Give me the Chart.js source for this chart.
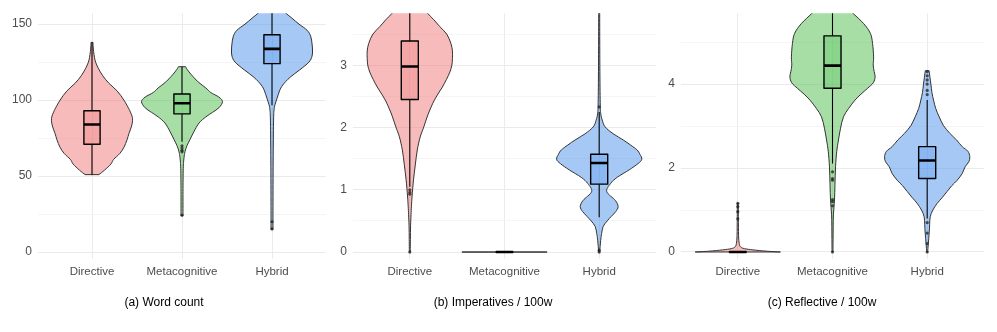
<!DOCTYPE html>
<html>
<head>
<meta charset="utf-8">
<script src="https://cdn.jsdelivr.net/npm/chart.js@4.4.0/dist/chart.umd.min.js"></script>
<style>
  body { margin: 0; background: #fff; }
  #wrap { position: relative; width: 997px; height: 332px; }
  #wrap canvas { position: absolute; top: 0; }
</style>
</head>
<body>
<div id="wrap">
  <canvas id="c1" width="330" height="332" style="left:0px"></canvas>
  <canvas id="c2" width="330" height="332" style="left:330px"></canvas>
  <canvas id="c3" width="337" height="332" style="left:660px"></canvas>
</div>
<script>
const groups = ['Directive', 'Metacognitive', 'Hybrid'];
const titles = ['(a) Word count', '(b) Imperatives / 100w', '(c) Reflective / 100w'];

// violin outlines: [value, half width in category units] from bottom to top
const wordViolins = [
  [[51,0.077],[54,0.14],[58,0.21],[61,0.24],[65,0.31],[69,0.355],[74,0.39],[78,0.41],[83,0.44],[88,0.45],
   [93,0.42],[100,0.355],[106,0.28],[111,0.19],[116,0.12],[121,0.07],[125,0.04],[128,0.028],[132,0.018],[135,0.013],[138,0.011]],
  [[24,0.011],[40,0.011],[55,0.014],[62,0.022],[66,0.033],[70,0.055],[74,0.088],[79,0.13],[85,0.19],[89,0.265],
   [92,0.34],[95,0.41],[99,0.45],[102,0.41],[105,0.32],[108,0.265],[111,0.2],[114,0.145],[117,0.1],[120,0.06],[122,0.04]],
  [[15,0.011],[30,0.011],[60,0.013],[85,0.017],[93,0.022],[97,0.033],[101,0.055],[106,0.083],[110,0.12],[115,0.2],
   [120,0.31],[125,0.41],[129,0.445],[133,0.45],[137,0.445],[142,0.43],[146,0.39],[150,0.3],[154,0.22],[158,0.14],
   [163,0.08],[168,0.035],[172,0.011]]
];
const impViolins = [
  [[0,0.005],[0.2,0.006],[0.42,0.008],[0.6,0.013],[0.73,0.017],[0.9,0.024],[1.16,0.039],[1.4,0.058],[1.64,0.079],
   [1.85,0.11],[2.01,0.148],[2.2,0.19],[2.39,0.243],[2.52,0.29],[2.65,0.344],[2.77,0.386],[2.89,0.423],[3.0,0.444],
   [3.11,0.45],[3.23,0.45],[3.35,0.434],[3.5,0.39],[3.62,0.317],[3.73,0.254],[3.83,0.19],[3.95,0.127],[4.1,0.063],[4.3,0.02]],
  [[0,0.45],[0,0.45]],
  [[0,0.005],[0.19,0.016],[0.3,0.026],[0.41,0.042],[0.5,0.085],[0.57,0.127],[0.65,0.175],[0.73,0.2],[0.83,0.17],
   [0.97,0.08],[1.1,0.12],[1.2,0.19],[1.32,0.317],[1.42,0.41],[1.49,0.45],[1.57,0.43],[1.64,0.4],[1.72,0.33],
   [1.8,0.254],[1.9,0.148],[2.01,0.063],[2.12,0.032],[2.23,0.016],[2.4,0.011],[3.0,0.007],[4.0,0.005]]
];
const reflViolins = [
  [[0,0.45],[0.02,0.3],[0.05,0.16],[0.08,0.07],[0.12,0.03],[0.2,0.015],[0.4,0.008],[0.8,0.006],[1.16,0.005]],
  [[0,0.005],[0.3,0.006],[0.6,0.007],[0.9,0.01],[1.24,0.021],[1.6,0.026],[2.03,0.032],[2.4,0.045],[2.67,0.063],
   [2.95,0.085],[3.22,0.116],[3.42,0.17],[3.62,0.238],[3.76,0.3],[3.9,0.37],[4.03,0.43],[4.17,0.45],[4.3,0.44],
   [4.45,0.43],[4.65,0.434],[4.97,0.423],[5.21,0.4],[5.44,0.33],[5.68,0.22],[5.9,0.12],[6.1,0.05],[6.3,0.01]],
  [[0,0.005],[0.2,0.012],[0.45,0.021],[0.65,0.026],[0.84,0.032],[1.0,0.06],[1.16,0.106],[1.3,0.16],[1.44,0.21],
   [1.58,0.26],[1.71,0.317],[1.87,0.37],[2.03,0.4],[2.15,0.44],[2.27,0.45],[2.4,0.43],[2.51,0.37],[2.67,0.31],
   [2.83,0.238],[3.02,0.17],[3.22,0.127],[3.42,0.09],[3.62,0.067],[3.8,0.05],[4.0,0.039],[4.15,0.03],[4.32,0.02]]
];

// boxplot stats: [lower whisker, q1, median, q3, upper whisker]
const wordBoxes = [[51, 71, 84, 93, 138], [72.6, 91, 98, 104, 122], [96.7, 124, 133.7, 143, 172]];
const impBoxes = [[1.05, 2.45, 2.98, 3.39, 4.3], [0, 0, 0, 0, 0], [0.56, 1.09, 1.43, 1.57, 2.25]];
const reflBoxes = [[0, 0, 0, 0, 0], [2.11, 3.9, 4.44, 5.15, 6.3], [0.8, 1.75, 2.18, 2.51, 3.62]];

const wordOutliers = [[], [70, 68.5, 67, 66, 24.3], [20, 15.3]];
const impOutliers = [[1.0, 0.96, 0.93, 0], [], [2.33, 0.03, 0]];
const reflOutliers = [[1.16, 1.08, 0.96, 0.79], [1.91, 1.75, 1.71, 1.25, 1.2, 1.1, 0], [3.75, 3.85, 4.0, 4.1, 4.2, 4.3, 0.7, 0.45, 0.2, 0]];

// y ticks
const wordMajor = [0, 50, 100, 150], wordMinor = [25, 75, 125];
const impMajor = [0, 1, 2, 3], impMinor = [0.5, 1.5, 2.5, 3.5];
const reflMajor = [0, 2, 4], reflMinor = [1, 3, 5];

const violinFill = ['rgba(240,120,120,0.5)', 'rgba(77,190,77,0.5)', 'rgba(75,145,235,0.5)'];
const boxFill = ['rgba(240,120,120,0.3)', 'rgba(77,190,77,0.3)', 'rgba(75,145,235,0.3)'];

function smoothSide(ctx, pts, first) {
  for (let i = 0; i < pts.length; i++) {
    if (i === 0) {
      if (first) ctx.moveTo(pts[0][0], pts[0][1]); else ctx.lineTo(pts[0][0], pts[0][1]);
      continue;
    }
    const p0 = pts[Math.max(i - 2, 0)], p1 = pts[i - 1], p2 = pts[i], p3 = pts[Math.min(i + 1, pts.length - 1)];
    ctx.bezierCurveTo(
      p1[0] + (p2[0] - p0[0]) / 6, p1[1] + (p2[1] - p0[1]) / 6,
      p2[0] - (p3[0] - p1[0]) / 6, p2[1] - (p3[1] - p1[1]) / 6,
      p2[0], p2[1]);
  }
}

const violinPlugin = {
  id: 'violins',
  beforeDatasetsDraw(chart, args, opts) {
    const ctx = chart.ctx, xs = chart.scales.x, ys = chart.scales.y, a = chart.chartArea;
    ctx.save();
    ctx.beginPath();
    ctx.rect(a.left, a.top, a.right - a.left, a.bottom - a.top);
    ctx.clip();
    opts.violins.forEach((v, i) => {
      const right = v.map(p => [xs.getPixelForValue(i + p[1]), ys.getPixelForValue(p[0])]);
      const left = v.map(p => [xs.getPixelForValue(i - p[1]), ys.getPixelForValue(p[0])]).reverse();
      ctx.beginPath();
      smoothSide(ctx, right, true);
      smoothSide(ctx, left, false);
      ctx.closePath();
      ctx.fillStyle = violinFill[i];
      ctx.fill();
      ctx.strokeStyle = '#333333';
      ctx.lineWidth = 1;
      ctx.lineJoin = 'round';
      ctx.stroke();
    });
    opts.boxes.forEach((b, i) => {
      const cx = xs.getPixelForValue(i), x0 = xs.getPixelForValue(i - 0.09), x1 = xs.getPixelForValue(i + 0.09);
      const [lo, q1, med, q3, hi] = b.map(v => ys.getPixelForValue(v));
      ctx.strokeStyle = '#000';
      ctx.lineWidth = 1.1;
      ctx.beginPath();
      ctx.moveTo(cx, q3); ctx.lineTo(cx, hi);
      ctx.moveTo(cx, q1); ctx.lineTo(cx, lo);
      ctx.stroke();
      ctx.fillStyle = boxFill[i];
      ctx.fillRect(x0, q3, x1 - x0, q1 - q3);
      ctx.lineWidth = 1.4;
      ctx.strokeRect(x0, q3, x1 - x0, q1 - q3);
      ctx.lineWidth = 2.6;
      ctx.beginPath();
      ctx.moveTo(x0, med); ctx.lineTo(x1, med);
      ctx.stroke();
    });
    ctx.restore();
  }
};

function makeChart(id, k, violins, boxes, outliers, major, minor, yMin, yMax, yWidth, padRight) {
  const pts = [];
  outliers.forEach((list, i) => list.forEach(v => pts.push({ x: i, y: v })));
  const yTicks = major.concat(minor).sort((a, b) => a - b);
  new Chart(document.getElementById(id), {
    type: 'scatter',
    data: {
      datasets: [{
        data: pts,
        pointRadius: 1.6,
        pointBackgroundColor: 'rgba(30,30,30,0.75)',
        pointBorderWidth: 0,
        clip: false
      }]
    },
    options: {
      responsive: false,
      animation: false,
      layout: { padding: { top: 13, right: padRight, left: 0, bottom: 0 } },
      plugins: {
        legend: { display: false },
        tooltip: { enabled: false },
        title: {
          display: true,
          position: 'bottom',
          text: titles[k],
          color: '#000',
          font: { family: 'Liberation Sans', size: 12, weight: 'normal' },
          padding: { top: 0, bottom: 22 }
        },
        violins: { violins: violins, boxes: boxes }
      },
      scales: {
        x: {
          type: 'linear',
          min: -0.6,
          max: 2.6,
          afterBuildTicks: s => { s.ticks = groups.map((g, i) => ({ value: i })); },
          afterFit: s => { s.height = 36.6; },
          ticks: {
            callback: v => groups[v],
            color: '#4d4d4d',
            font: { family: 'Liberation Sans', size: 11.5 },
            padding: 6,
            maxRotation: 0
          },
          grid: { color: '#ebebeb', lineWidth: 1, drawTicks: false },
          border: { display: false }
        },
        y: {
          min: yMin,
          max: yMax,
          afterBuildTicks: s => { s.ticks = yTicks.map(v => ({ value: v })); },
          afterFit: s => { s.width = yWidth; },
          ticks: {
            callback: v => (major.includes(v) ? String(v) : ''),
            color: '#4d4d4d',
            font: { family: 'Liberation Sans', size: 12 },
            padding: 6
          },
          grid: {
            color: c => (major.includes(c.tick.value) ? '#ebebeb' : '#f3f3f3'),
            lineWidth: c => (major.includes(c.tick.value) ? 1 : 0.8),
            drawTicks: false
          },
          border: { display: false }
        }
      }
    },
    plugins: [violinPlugin]
  });
}

makeChart('c1', 0, wordViolins, wordBoxes, wordOutliers, wordMajor, wordMinor, -4.5, 157.2, 38, 2);
makeChart('c2', 1, impViolins, impBoxes, impOutliers, impMajor, impMinor, -0.112, 3.836, 23, 4);
makeChart('c3', 2, reflViolins, reflBoxes, reflOutliers, reflMajor, reflMinor, -0.167, 5.69, 21, 13);
</script>
</body>
</html>
